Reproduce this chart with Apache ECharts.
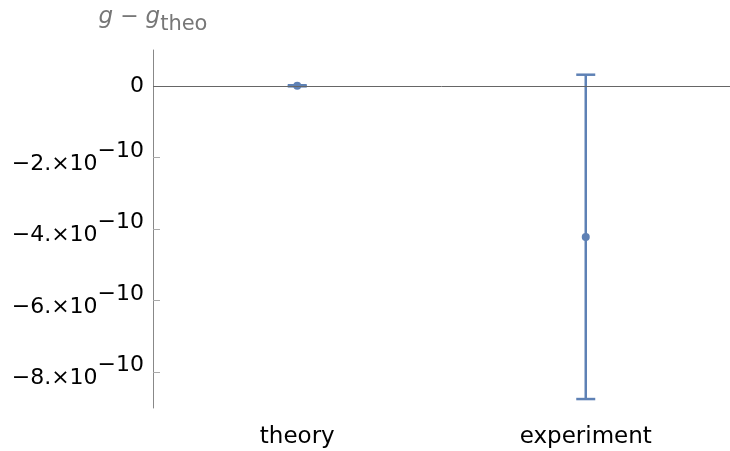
<!DOCTYPE html>
<html>
<head>
<meta charset="utf-8">
<script src="https://cdn.jsdelivr.net/npm/echarts@6/dist/echarts.min.js"></script>
<style>
  html, body { margin: 0; padding: 0; background: #fff; }
  #chart { width: 730px; height: 451px; }
</style>
</head>
<body>
<div id="chart"></div>
<script>
// Deviation from the theoretical value, with uncertainties
const categories = ['theory', 'experiment'];
const values = [0, -4.22e-10];
const errors = [0.015e-10, 4.53e-10];
const yTicks = [0, -2e-10, -4e-10, -6e-10, -8e-10];
const yMin = -9e-10;
const yMax = 1e-10;

const blue = '#5E81B5';
const chart = echarts.init(document.getElementById('chart'), null, { renderer: 'canvas' });

// Mathematica-style tick label: "−2.×10^−10"
function sciLabel(v) {
  if (Math.abs(v) < 1e-20) return '{z|0}';
  const exp = Math.floor(Math.log10(Math.abs(v)) + 1e-9);
  const mant = Math.round(v / Math.pow(10, exp));
  const sign = mant < 0 ? '−' : '';
  const expStr = (exp < 0 ? '−' : '') + Math.abs(exp);
  return '{b|' + sign + Math.abs(mant) + '.×10}{s|' + expStr + '}';
}

const errData = categories.map((c, i) => [i, values[i], values[i] - errors[i], values[i] + errors[i]]);
const pointData = categories.map((c, i) => [i, values[i]]);

const labelFont = 'DejaVu Sans';
const titleColor = '#777';

chart.setOption({
  animation: false,
  grid: { left: 153, right: -2, top: 50, bottom: 43, containLabel: false },
  xAxis: {
    type: 'category',
    data: categories,
    boundaryGap: true,
    axisLine: { show: false, onZero: false },
    axisTick: { show: false },
    splitLine: { show: false },
    axisLabel: { color: '#000', fontFamily: labelFont, fontSize: 23, margin: 18 }
  },
  yAxis: {
    type: 'value',
    min: yMin,
    max: yMax,
    name: '{i|g}{n| − }{i|g}{sub|theo}',
    nameLocation: 'end',
    nameGap: 29,
    nameTextStyle: {
      align: 'center',
      verticalAlign: 'middle',
      rich: {
        i: { fontFamily: labelFont, fontStyle: 'italic', fontSize: 23, color: titleColor, padding: [0, 0, 8, 0] },
        n: { fontFamily: labelFont, fontSize: 22, color: titleColor, padding: [0, 0, 8, 0] },
        sub: { fontFamily: labelFont, fontSize: 21, color: titleColor, padding: [8, 0, 0, 0] }
      }
    },
    splitLine: { show: false },
    axisLine: { show: true, lineStyle: { color: '#888', width: 1 } },
    axisTick: { show: true, inside: true, length: 7, customValues: yTicks, lineStyle: { color: '#aaa', width: 1 } },
    axisLabel: {
      customValues: yTicks,
      margin: 9,
      formatter: sciLabel,
      rich: {
        z: { fontFamily: labelFont, fontSize: 22, color: '#000' },
        b: { fontFamily: labelFont, fontSize: 22, color: '#000', padding: [13, 0, 0, 0] },
        s: { fontFamily: labelFont, fontSize: 22, color: '#000', padding: [0, 0, 13, 0] }
      }
    }
  },
  series: [
    {
      // zero reference line
      type: 'line',
      data: [],
      z: 1,
      markLine: {
        silent: true,
        symbol: 'none',
        label: { show: false },
        lineStyle: { color: '#666', width: 1, type: 'solid' },
        data: [{ yAxis: 0 }]
      }
    },
    {
      type: 'custom',
      z: 2,
      data: errData,
      renderItem: function (params, api) {
        const c = api.coord([api.value(0), api.value(1)]);
        const lo = api.coord([api.value(0), api.value(2)]);
        const hi = api.coord([api.value(0), api.value(3)]);
        const hw = 9.5;
        const style = { stroke: blue, lineWidth: 2.5, fill: null };
        return {
          type: 'group',
          children: [
            { type: 'line', shape: { x1: c[0], y1: hi[1], x2: c[0], y2: lo[1] }, style: style },
            { type: 'line', shape: { x1: c[0] - hw, y1: hi[1], x2: c[0] + hw, y2: hi[1] }, style: style },
            { type: 'line', shape: { x1: c[0] - hw, y1: lo[1], x2: c[0] + hw, y2: lo[1] }, style: style }
          ]
        };
      }
    },
    {
      type: 'scatter',
      z: 3,
      data: pointData,
      symbol: 'circle',
      symbolSize: 8,
      itemStyle: { color: blue, opacity: 1 }
    }
  ]
});
</script>
</body>
</html>
